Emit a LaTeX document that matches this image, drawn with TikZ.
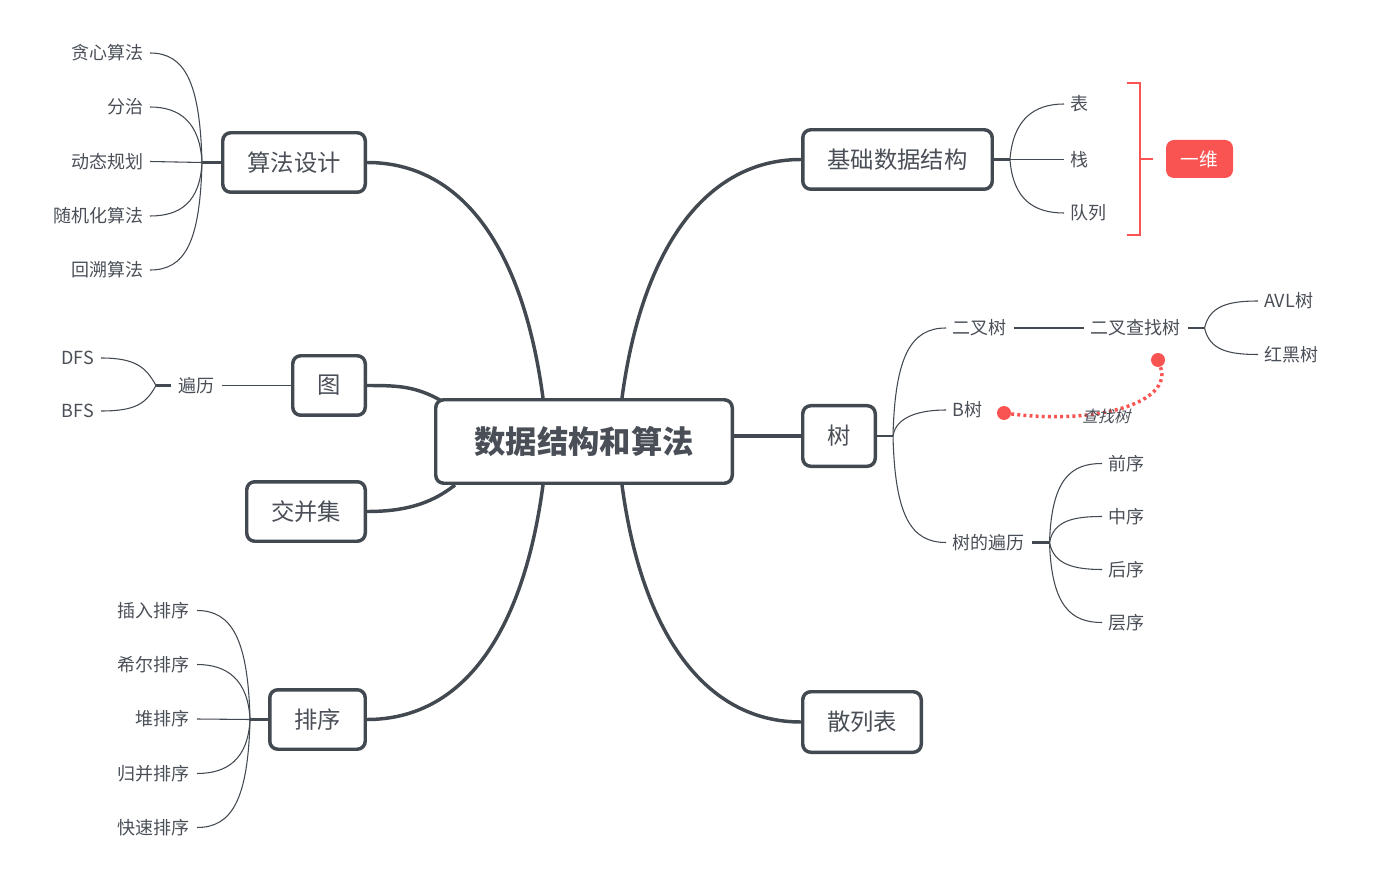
\documentclass[tikz,border=0pt]{standalone}
\usepackage{fontspec}
\setmainfont{Noto Sans CJK SC}
\newfontfamily\slantfont[FakeSlant=0.25]{Noto Sans CJK SC}
\usetikzlibrary{calc}
\definecolor{dk}{HTML}{434951}
\definecolor{txt}{HTML}{4A4F57}
\definecolor{rd}{HTML}{F95452}
\begin{document}
\begin{tikzpicture}[x=0.75pt,y=-0.75pt,
  topic/.style={draw=dk, line width=2.6pt, rounded corners=6pt, fill=white, text=txt,
    font=\fontsize{17.5}{20}\selectfont, inner sep=0pt, minimum height=44.6pt},
  lab/.style={inner sep=0pt, text=txt, font=\fontsize{13.5}{15}\selectfont},
  mainline/.style={draw=dk, line width=2.6pt},
  subline/.style={draw=dk, line width=0.8pt},
  stubline/.style={draw=dk, line width=1.6pt},
  redline/.style={draw=rd, line width=1.9pt},
  dot/.style={circle, fill=rd, inner sep=0pt, minimum size=10.5pt}]
\useasboundingbox (0,0) rectangle (1397,877);

% topics
\node[topic, minimum width=222.4pt, minimum height=62.6pt, font=\fontsize{23.5}{26}\selectfont\bfseries] (c) at (584,441.5) {数据结构和算法};
\node[topic, minimum width=106.9pt] (sf) at (294,162.5) {算法设计};
\node[topic, minimum width=142.1pt] (jc) at (897.5,159.5) {基础数据结构};
\node[topic, minimum width=54.4pt] (tu) at (329,385.5) {图};
\node[topic, minimum width=88.9pt] (jb) at (306,511.5) {交并集};
\node[topic, minimum width=54.4pt, minimum height=45.4pt] (sh) at (839,436) {树};
\node[topic, minimum width=71.6pt] (px) at (317.5,719.5) {排序};
\node[topic, minimum width=88.9pt, minimum height=45.4pt] (sl) at (862,722) {散列表};

% main connectors
\draw[mainline] ($(c.north)+(-41,0)$) .. controls +(-20,-150) and +(95,0) .. (sf.east);
\draw[mainline] ($(c.north)+(38,0)$) .. controls +(20,-150) and +(-95,0) .. (jc.west);
\draw[mainline] ($(c.south)+(-41,0)$) .. controls +(-20,150) and +(95,0) .. (px.east);
\draw[mainline] ($(c.south)+(38,0)$) .. controls +(20,150) and +(-95,0) .. (sl.west);
\draw[mainline] ($(c.north west)+(6,2)$) .. controls +(-25,-14) and +(30,0) .. (tu.east);
\draw[mainline] ($(c.south west)+(21,0)$) .. controls +(-25,20) and +(35,0) .. (jb.east);
\draw[mainline] (c.east |- sh.west) -- (sh.west);

% 算法设计 branches
\node[lab, anchor=east] (s1) at (144,53) {贪心算法};
\node[lab, anchor=east] (s2) at (144,107) {分治};
\node[lab, anchor=east] (s3) at (144,161.5) {动态规划};
\node[lab, anchor=east] (s4) at (144,216) {随机化算法};
\node[lab, anchor=east] (s5) at (144,270) {回溯算法};
\draw[stubline] (sf.west) -- ++(-19,0) coordinate (jsf);
\draw[subline] (jsf) .. controls +(-2,-80) and +(35,0) .. ($(s1.east)+(6,0)$);
\draw[subline] (jsf) .. controls +(-2,-40) and +(30,0) .. ($(s2.east)+(6,0)$);
\draw[subline] (jsf) -- ($(s3.east)+(6,0)$);
\draw[subline] (jsf) .. controls +(-2,40) and +(30,0) .. ($(s4.east)+(6,0)$);
\draw[subline] (jsf) .. controls +(-2,80) and +(35,0) .. ($(s5.east)+(6,0)$);

% 基础数据结构 branches
\node[lab, anchor=west] (j1) at (1070,104) {表};
\node[lab, anchor=west] (j2) at (1070,159.5) {栈};
\node[lab, anchor=west] (j3) at (1070,213) {队列};
\draw[stubline] (jc.east) -- ++(16,0) coordinate (jjc);
\draw[subline] (jjc) .. controls +(3,-40) and +(-30,0) .. ($(j1.west)+(-6,0)$);
\draw[subline] (jjc) -- ($(j2.west)+(-6,0)$);
\draw[subline] (jjc) .. controls +(3,40) and +(-30,0) .. ($(j3.west)+(-6,0)$);

% summary bracket
\node[fill=rd, rounded corners=6pt, text=white, inner sep=0pt, minimum width=50.25pt, minimum height=28.5pt, font=\fontsize{14}{16}\selectfont] (yw) at (1199.5,159) {一维};
\draw[redline] (1127,83) -- (1140,83) -- (1140,235) -- (1127,235);
\draw[redline] (1140,159) -- (1153,159);

% 图 branches
\node[lab, anchor=west] (bl) at (178,385.5) {遍历};
\node[lab, anchor=east] (dfs) at (94,358) {DFS};
\node[lab, anchor=east] (bfs) at (94,411) {BFS};
\draw[subline] (tu.west) -- ($(bl.east)+(7,0)$);
\draw[stubline] ($(bl.west)+(-7,0)$) -- ++(-15,0) coordinate (jbl);
\draw[subline] (jbl) .. controls +(-10,-18) and +(35,0) .. ($(dfs.east)+(7,0)$);
\draw[subline] (jbl) .. controls +(-10,18) and +(35,0) .. ($(bfs.east)+(7,0)$);

% 树 branches
\node[lab, anchor=west] (t1) at (952,328) {二叉树};
\node[lab, anchor=west] (t2) at (952,410) {B树};
\node[lab, anchor=west] (t3) at (952,542.5) {树的遍历};
\draw[stubline] (sh.east) -- ++(16,0) coordinate (jsh);
\draw[subline] (jsh) .. controls +(2,-80) and +(-35,0) .. ($(t1.west)+(-6,0)$);
\draw[subline] (jsh) .. controls +(3,-20) and +(-25,0) .. ($(t2.west)+(-6,0)$);
\draw[subline] (jsh) .. controls +(2,80) and +(-35,0) .. ($(t3.west)+(-6,0)$);

\node[lab, anchor=west] (bst) at (1090,328) {二叉查找树};
\draw[subline] ($(t1.east)+(7,0)$) -- ($(bst.west)+(-6,0)$);
\node[lab, anchor=west] (avl) at (1264,301) {AVL树};
\node[lab, anchor=west] (rb) at (1264,354.5) {红黑树};
\draw[stubline] ($(bst.east)+(7,0)$) -- ++(17,0) coordinate (jbst);
\draw[subline] (jbst) .. controls +(5,-22) and +(-30,0) .. ($(avl.west)+(-6,0)$);
\draw[subline] (jbst) .. controls +(5,22) and +(-30,0) .. ($(rb.west)+(-6,0)$);

\node[lab, anchor=west] (o1) at (1108,463.5) {前序};
\node[lab, anchor=west] (o2) at (1108,516.5) {中序};
\node[lab, anchor=west] (o3) at (1108,569.5) {后序};
\node[lab, anchor=west] (o4) at (1108,622.5) {层序};
\draw[stubline] ($(t3.east)+(7,0)$) -- ++(18,0) coordinate (jt3);
\draw[subline] (jt3) .. controls +(2,-65) and +(-30,0) .. ($(o1.west)+(-6,0)$);
\draw[subline] (jt3) .. controls +(4,-22) and +(-28,0) .. ($(o2.west)+(-6,0)$);
\draw[subline] (jt3) .. controls +(4,22) and +(-28,0) .. ($(o3.west)+(-6,0)$);
\draw[subline] (jt3) .. controls +(2,65) and +(-30,0) .. ($(o4.west)+(-6,0)$);

% relationship
\node[dot] (d1) at (1004,413) {};
\node[dot] (d2) at (1158,360) {};
\draw[draw=rd, line width=2.6pt, dash pattern=on 2.2pt off 2.4pt] (d1) .. controls +(95,12) and +(15,42) .. (d2);
\node[inner sep=0pt, text=txt, font=\fontsize{12}{14}\selectfont\slantfont] (rel) at (1106,416) {查找树};

% 排序 branches
\node[lab, anchor=east] (p1) at (190,610.5) {插入排序};
\node[lab, anchor=east] (p2) at (190,664.5) {希尔排序};
\node[lab, anchor=east] (p3) at (190,719) {堆排序};
\node[lab, anchor=east] (p4) at (190,773.5) {归并排序};
\node[lab, anchor=east] (p5) at (190,827.5) {快速排序};
\draw[stubline] (px.west) -- ++(-18,0) coordinate (jpx);
\draw[subline] (jpx) .. controls +(-2,-80) and +(35,0) .. ($(p1.east)+(7,0)$);
\draw[subline] (jpx) .. controls +(-2,-40) and +(30,0) .. ($(p2.east)+(7,0)$);
\draw[subline] (jpx) -- ($(p3.east)+(7,0)$);
\draw[subline] (jpx) .. controls +(-2,40) and +(30,0) .. ($(p4.east)+(7,0)$);
\draw[subline] (jpx) .. controls +(-2,80) and +(35,0) .. ($(p5.east)+(7,0)$);
\end{tikzpicture}
\end{document}
